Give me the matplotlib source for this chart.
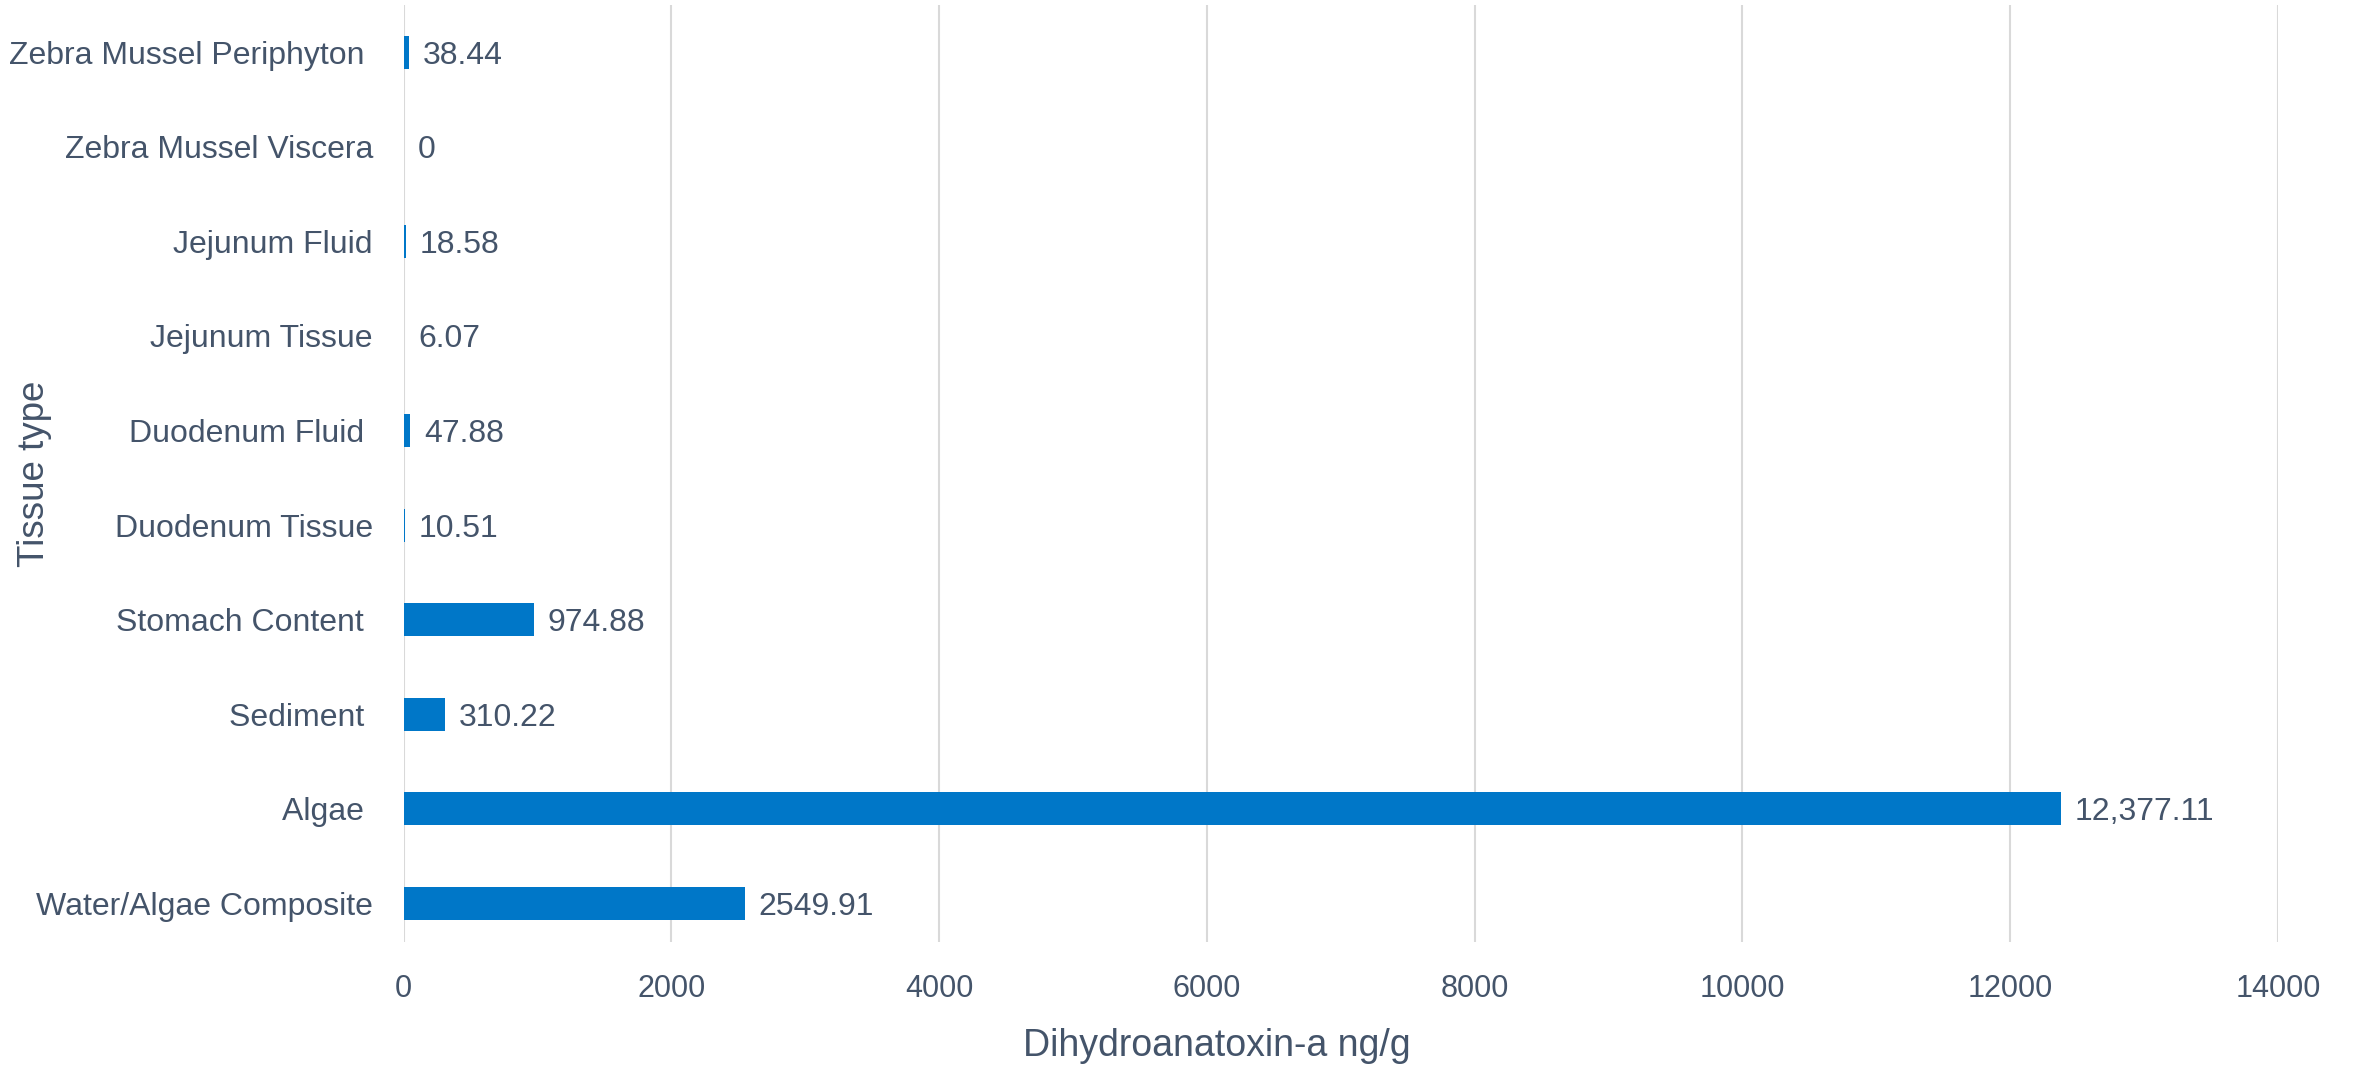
import matplotlib
matplotlib.use("Agg")
import matplotlib.pyplot as plt

# Dados (de baixo para cima)
tecidos = [
    "Water/Algae Composite",
    "Algae ",
    "Sediment ",
    "Stomach Content ",
    "Duodenum Tissue",
    "Duodenum Fluid ",
    "Jejunum Tissue",
    "Jejunum Fluid",
    "Zebra Mussel Viscera",
    "Zebra Mussel Periphyton ",
]
valores = [2549.91, 12377.11, 310.22, 974.88, 10.51, 47.88, 6.07, 18.58, 0, 38.44]
rotulos = ["2549.91", "12,377.11", "310.22", "974.88", "10.51",
           "47.88", "6.07", "18.58", "0", "38.44"]
ticks_x = [0, 2000, 4000, 6000, 8000, 10000, 12000, 14000]

cor_texto = "#44546a"
cor_barra = "#0077c8"

plt.rcParams["font.family"] = ["Liberation Sans", "DejaVu Sans"]

fig = plt.figure(figsize=(23.53, 10.66), dpi=100)
ax = fig.add_axes([0.1715, 0.1163, 0.7966, 0.879])

pos = range(len(tecidos))
barras = ax.barh(pos, valores, height=0.35, color=cor_barra, zorder=3)

# Rótulos de valor ao lado das barras
for barra, texto in zip(barras, rotulos):
    ax.annotate(texto,
                (barra.get_width(), barra.get_y() + barra.get_height() / 2),
                xytext=(10, 0), textcoords="offset points",
                ha="left", va="center_baseline", fontsize=23, color=cor_texto)

ax.set_xlim(0, 14000)
ax.set_ylim(-0.41, 9.5)
ax.set_xticks(ticks_x)
ax.set_xticklabels([str(t) for t in ticks_x])
ax.set_yticks(list(pos))
ax.set_yticklabels(tecidos)

ax.tick_params(axis="both", length=0, labelcolor=cor_texto)
ax.tick_params(axis="x", pad=23, labelsize=22)
ax.tick_params(axis="y", pad=22, labelsize=23)
for lbl in ax.get_yticklabels():
    lbl.set_va("center_baseline")

ax.grid(axis="x", color="#d9d9d9", linewidth=1.5, zorder=0)
for lado in ax.spines.values():
    lado.set_visible(False)

ax.set_xlabel("Dihydroanatoxin-a ng/g", fontsize=27, color=cor_texto)
ax.set_ylabel("Tissue type", fontsize=26.5, color=cor_texto)
ax.xaxis.label.set_va("center")
ax.yaxis.label.set_va("center")
ax.xaxis.set_label_coords(0.434, -0.111)
ax.yaxis.set_label_coords(-0.197, 0.5)

fig.savefig("out.png", dpi=100)
